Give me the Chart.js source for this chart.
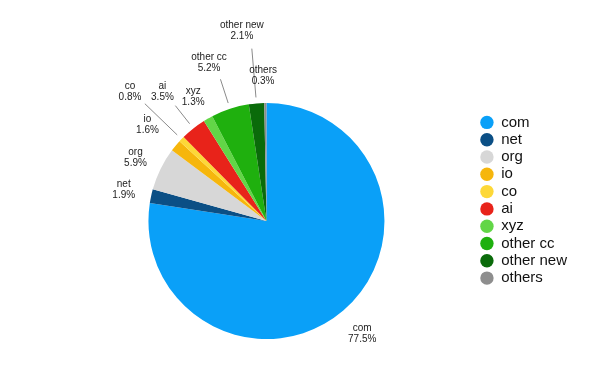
<!DOCTYPE html>
<html>
<head>
<meta charset="utf-8">
<script src="https://cdn.jsdelivr.net/npm/chart.js@4"></script>
<style>
  html, body { margin: 0; padding: 0; background: #fff; }
  #wrap { width: 600px; height: 367px; }
</style>
</head>
<body>
<div id="wrap"><canvas id="pieChart"></canvas></div>
<script>
let tlds = ['com', 'net', 'org', 'io', 'co', 'ai', 'xyz', 'other cc', 'other new', 'others'];
let shares = [77.5, 1.9, 5.9, 1.6, 0.8, 3.5, 1.3, 5.2, 2.1, 0.3];
let colores = ['#0aa0f8', '#0b4f85', '#d7d7d7', '#f6b60c', '#fdd838', '#e8231a',
               '#62d647', '#1fb00e', '#0a6b0a', '#8e8e8e'];

// extra distance of each label past the pie edge, and a small turn in degrees
let labelGap = [29.6, 28.2, 27.4, 35, 70, 48, 26.5, 50, 74, 27.5];
let labelTurn = [0.2, 0.4, -0.4, -0.7, -0.5, -0.5, -0.8, -2, -2.5, -0.8];

const pieLabels = {
    id: 'pieLabels',
    afterDatasetsDraw(chart) {
        const ctx = chart.ctx;
        const arcs = chart.getDatasetMeta(0).data;
        ctx.save();
        ctx.font = '10px "Liberation Sans", Arial, sans-serif';
        ctx.textAlign = 'center';
        ctx.textBaseline = 'middle';
        arcs.forEach((arc, i) => {
            const mid = (arc.startAngle + arc.endAngle) / 2;
            const r = arc.outerRadius;
            const d = r + labelGap[i];
            const a = mid + labelTurn[i] * Math.PI / 180;
            const x = arc.x + Math.cos(a) * d;
            const y = arc.y + Math.sin(a) * d;
            if (labelGap[i] > 40) {
                ctx.strokeStyle = '#8a8a8a';
                ctx.lineWidth = 1;
                ctx.beginPath();
                ctx.moveTo(arc.x + Math.cos(mid) * (r + 6), arc.y + Math.sin(mid) * (r + 6));
                ctx.lineTo(arc.x + Math.cos(mid) * (d - 19), arc.y + Math.sin(mid) * (d - 19));
                ctx.stroke();
            }
            ctx.fillStyle = '#222';
            ctx.fillText(tlds[i], x, y - 5.5);
            ctx.fillText(shares[i].toFixed(1) + '%', x, y + 5.5);
        });
        ctx.restore();
    }
};

const ctxP = document.getElementById('pieChart').getContext('2d');
const pieChart = new Chart(ctxP, {
    type: 'pie',
    data: {
        labels: tlds,
        datasets: [{
            data: shares,
            backgroundColor: colores,
            borderWidth: 0,
            hoverOffset: 0
        }]
    },
    options: {
        responsive: true,
        maintainAspectRatio: false,
        animation: false,
        layout: {
            padding: { top: 103, bottom: 28, left: 55, right: 23 }
        },
        plugins: {
            tooltip: { enabled: false },
            legend: {
                position: 'right',
                align: 'start',
                title: {
                    display: true,
                    text: ' ',
                    font: { size: 8 },
                    padding: 0
                },
                labels: {
                    usePointStyle: true,
                    pointStyle: 'circle',
                    pointStyleWidth: 13.4,
                    boxHeight: 9.5,
                    padding: 2.3,
                    color: '#111',
                    font: { size: 15, family: '"Liberation Sans", Arial, sans-serif' }
                }
            }
        }
    },
    plugins: [pieLabels]
});
</script>
</body>
</html>
